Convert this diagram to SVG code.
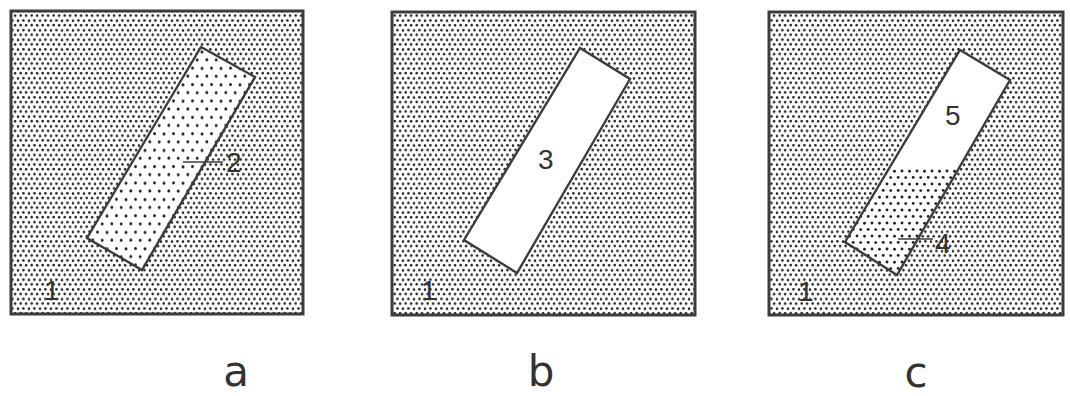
<svg xmlns="http://www.w3.org/2000/svg" width="1070" height="396" viewBox="0 0 1070 396">
<style>
.frame{stroke:#3c3c3c;stroke-width:3;}
.bar{stroke:#3c3c3c;stroke-width:2.4;stroke-linejoin:miter;}
.num{font-family:"Liberation Sans",Arial,sans-serif;font-size:28px;fill:#333;}
.cap{font-family:"DejaVu Sans","Liberation Sans",sans-serif;font-size:42px;fill:#333;text-anchor:middle;}
.lead{stroke:#3c3c3c;stroke-width:1.6;}
</style>
<defs>
<pattern id="dense" width="11" height="9.6" patternUnits="userSpaceOnUse">
<rect width="11" height="9.6" fill="#fff"/>
<circle cx="1.4" cy="1.3" r="1.3" fill="#222"/>
<circle cx="7.0" cy="1.6" r="1.25" fill="#222"/>
<circle cx="4.1" cy="6.1" r="1.3" fill="#222"/>
<circle cx="9.7" cy="5.9" r="1.25" fill="#222"/>
</pattern>
<pattern id="sparse" width="19" height="16.4" patternUnits="userSpaceOnUse">
<rect width="19" height="16.4" fill="#fff"/>
<circle cx="2.5" cy="2.5" r="1.5" fill="#222"/>
<circle cx="12" cy="2.8" r="1.5" fill="#222"/>
<circle cx="7.2" cy="10.7" r="1.5" fill="#222"/>
<circle cx="16.8" cy="10.5" r="1.5" fill="#222"/>
</pattern>
<pattern id="medium" width="15" height="13" patternUnits="userSpaceOnUse">
<rect width="15" height="13" fill="#fff"/>
<circle cx="2" cy="2" r="1.45" fill="#222"/>
<circle cx="9.5" cy="2.3" r="1.45" fill="#222"/>
<circle cx="5.7" cy="8.6" r="1.45" fill="#222"/>
<circle cx="13.2" cy="8.4" r="1.45" fill="#222"/>
</pattern>
</defs>

<g id="panel-a">
<rect class="frame" x="11" y="11" width="292" height="303" fill="url(#dense)"/>
<polygon class="bar" points="201,47 255,77 142,270 87,238" fill="url(#sparse)"/>
<text class="num" x="44" y="300">1</text>
<line class="lead" x1="183" y1="162" x2="223" y2="162"/>
<text class="num" x="226" y="172">2</text>
<text class="cap" x="236" y="386">a</text>
</g>

<g id="panel-b">
<rect class="frame" x="392" y="12" width="303" height="303" fill="url(#dense)"/>
<polygon class="bar" points="580,48 630,79 517,273 464,240" fill="#fff"/>
<text class="num" x="421" y="300">1</text>
<text class="num" x="538" y="169">3</text>
<text class="cap" x="541" y="386">b</text>
</g>

<g id="panel-c">
<rect class="frame" x="769" y="12" width="294" height="303" fill="url(#dense)"/>
<polygon points="960,50 1010,80 897,275 845,242" fill="#fff"/>
<polygon points="889,168 959,168 897,275 845,242" fill="url(#medium)"/>
<polygon class="bar" points="960,50 1010,80 897,275 845,242" fill="none"/>
<text class="num" x="798" y="301">1</text>
<text class="num" x="945" y="125">5</text>
<line class="lead" x1="898" y1="239" x2="933" y2="239"/>
<text class="num" x="935" y="253">4</text>
<text class="cap" x="916" y="387">c</text>
</g>
</svg>
